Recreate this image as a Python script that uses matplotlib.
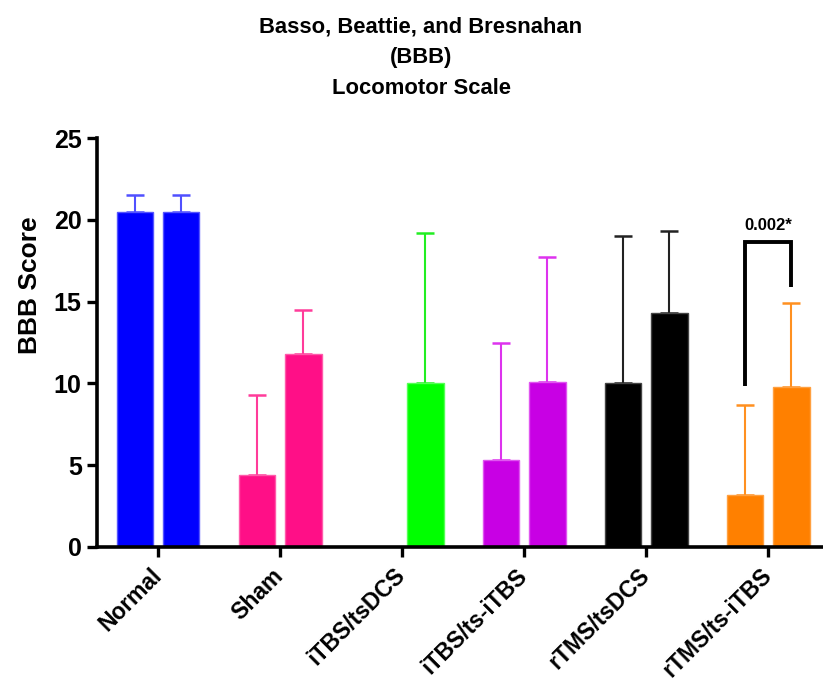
import matplotlib
matplotlib.use("Agg")
import matplotlib.pyplot as plt
import numpy as np

plt.rcParams['font.family'] = ['Liberation Sans', 'DejaVu Sans']
plt.rcParams['font.weight'] = 'bold'

groups = ["Normal", "Sham", "iTBS/tsDCS", "iTBS/ts-iTBS", "rTMS/tsDCS", "rTMS/ts-iTBS"]
means_a = [20.5, 4.4, 0.0, 5.3, 10.0, 3.2]
upper_a = [21.5, 9.3, 0.0, 12.5, 19.0, 8.7]
means_b = [20.5, 11.8, 10.0, 10.1, 14.3, 9.8]
upper_b = [21.5, 14.5, 19.2, 17.7, 19.3, 14.9]
colors = ["#0000FF", "#FF0F87", "#00FF00", "#C800E4", "#000000", "#FF8000"]
edge_colors = ["#5555FF", "#FF5AAA", "#55FF55", "#E055F0", "#444444", "#FFA040"]
err_colors = ["#5050FF", "#FF3C9A", "#22EE22", "#DD33EE", "#222222", "#FF9020"]
yticks = [0, 5, 10, 15, 20, 25]
sig_label = "0.002*"
sig_low_left = 9.85
sig_top = 18.65
sig_low_right = 15.9

fig = plt.figure(figsize=(8.23, 6.8), dpi=100)
ax = fig.add_axes([97/823, 1-547/680, (823-97)/823, (547-138)/680])

x = np.arange(len(groups))
w = 0.30
off = 0.19
for i in range(len(groups)):
    for xx, m, u in ((x[i]-off, means_a[i], upper_a[i]), (x[i]+off, means_b[i], upper_b[i])):
        if m <= 0:
            continue
        ax.bar(xx, m, width=w, color=colors[i], edgecolor=edge_colors[i], linewidth=1.0, zorder=2)
        ax.errorbar(xx, m, yerr=[[0], [u-m]], fmt='none', ecolor=err_colors[i],
                    elinewidth=1.5, capsize=6.8, capthick=1.8, zorder=1)

# significance bracket
xl, xr = x[5]-off, x[5]+off
ax.plot([xl, xl, xr, xr], [sig_low_left, sig_top, sig_top, sig_low_right],
        color='black', lw=2.8, solid_capstyle='butt', solid_joinstyle='miter', zorder=3)
ax.text(x[5], sig_top+0.55, sig_label, ha='center', va='bottom', fontsize=12, fontweight='bold')

ax.set_xlim(-0.5, 5.45)
ax.set_ylim(0, 25)
ax.set_yticks(yticks)
ax.set_yticklabels([str(t) for t in yticks], fontsize=18, fontweight='bold')
ax.set_xticks(x)
ax.set_xticklabels(groups, rotation=45, ha='right', va='center', rotation_mode='anchor',
                   fontsize=16.5, fontweight='bold')
ax.tick_params(axis='both', width=2.4, length=7, direction='out', color='black')
ax.tick_params(axis='x', pad=11)
ax.tick_params(axis='y', pad=4)
for s in ['top', 'right']:
    ax.spines[s].set_visible(False)
for s in ['left', 'bottom']:
    ax.spines[s].set_linewidth(2.6)

fig.text(30/823, 1-285/680, "BBB Score", rotation=90, ha='center', va='center',
         fontsize=19, fontweight='bold')
fig.text(421/823, 1-16/680, "Basso, Beattie, and Bresnahan\n(BBB)\nLocomotor Scale",
         ha='center', va='top', fontsize=15.8, fontweight='bold', linespacing=1.62)

fig.savefig("out.png", dpi=100)
